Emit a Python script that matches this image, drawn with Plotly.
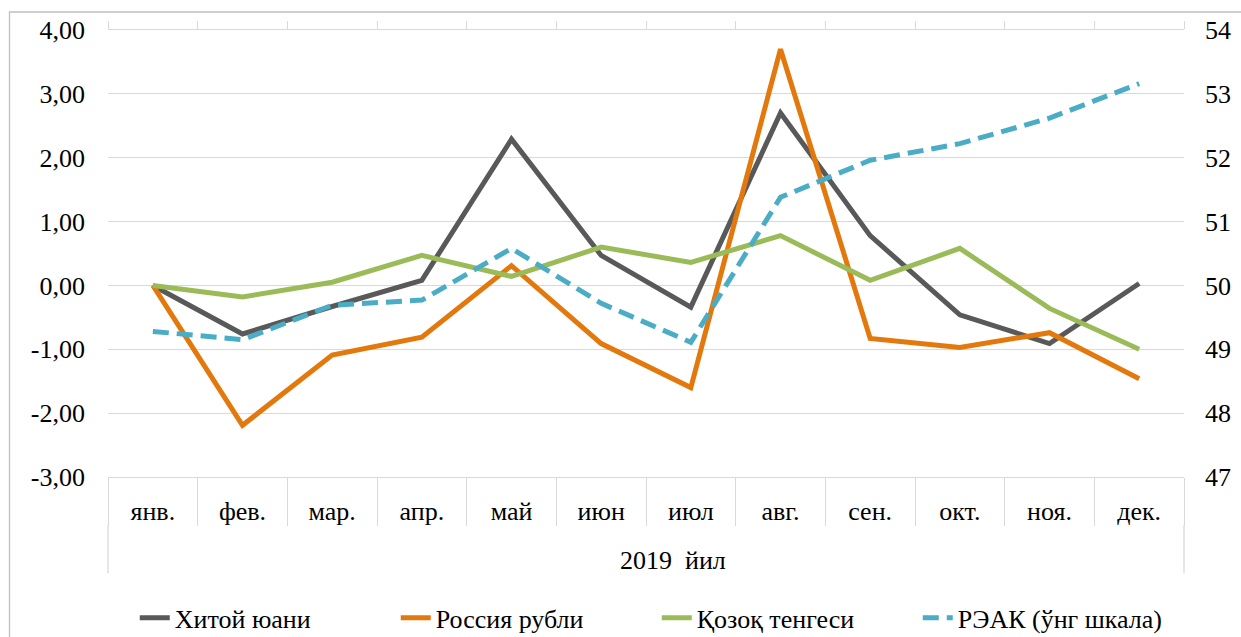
import plotly.graph_objects as go

months = ["янв.", "фев.", "мар.", "апр.", "май", "июн", "июл", "авг.", "сен.", "окт.", "ноя.", "дек."]
cny = [0.00, -0.76, -0.33, 0.08, 2.29, 0.47, -0.34, 2.70, 0.78, -0.46, -0.91, 0.03]
rub = [0.00, -2.19, -1.09, -0.81, 0.31, -0.91, -1.60, 3.70, -0.83, -0.97, -0.74, -1.46]
kzt = [0.00, -0.18, 0.05, 0.47, 0.14, 0.60, 0.36, 0.78, 0.08, 0.58, -0.36, -1.00]
reer = [49.28, 49.15, 49.69, 49.77, 50.58, 49.72, 49.11, 51.38, 51.96, 52.22, 52.62, 53.16]

left_ticks = [-3, -2, -1, 0, 1, 2, 3, 4]
left_labels = ["-3,00", "-2,00", "-1,00", "0,00", "1,00", "2,00", "3,00", "4,00"]
right_ticks = [47, 48, 49, 50, 51, 52, 53, 54]
right_labels = ["47", "48", "49", "50", "51", "52", "53", "54"]
year_label = "2019  йил"

FONT = "Liberation Serif, Times New Roman, serif"
FS = 26
GRID = "#d9d9d9"

fig = go.Figure()
fig.add_trace(go.Scatter(x=months, y=cny, name="Хитой юани", mode="lines",
                         line=dict(color="#595959", width=5)))
fig.add_trace(go.Scatter(x=months, y=rub, name="Россия рубли", mode="lines",
                         line=dict(color="#E3780C", width=5)))
fig.add_trace(go.Scatter(x=months, y=kzt, name="Қозоқ тенгеси", mode="lines",
                         line=dict(color="#9BBB59", width=5)))
fig.add_trace(go.Scatter(x=months, y=reer, name="РЭАК (ўнг шкала)", mode="lines",
                         xaxis="x2", yaxis="y2",
                         line=dict(color="#4BACC6", width=5, dash="16px,8px")))

fig.update_layout(
    width=1241, height=637,
    margin=dict(l=108, r=57, t=30, b=160, autoexpand=False),
    paper_bgcolor="white", plot_bgcolor="white",
    font=dict(family=FONT, size=FS, color="black"),
    showlegend=True,
    legend=dict(orientation="h", x=0.51, xanchor="center", y=-0.315, yanchor="middle",
                font=dict(family=FONT, size=FS, color="black"),
                entrywidth=216, entrywidthmode="pixels", bgcolor="rgba(0,0,0,0)"),
    xaxis=dict(type="category", range=[-0.5, 11.5], categoryorder="array", categoryarray=months,
               automargin=False,
               showgrid=False, zeroline=False, showline=True, linecolor=GRID, linewidth=1.3,
               ticks="outside", tickson="boundaries", ticklen=48, tickcolor=GRID, tickwidth=1.3,
               ticklabelstandoff=11,
               tickfont=dict(family=FONT, size=FS, color="black")),
    xaxis2=dict(type="category", range=[-0.5, 11.5], categoryorder="array", categoryarray=months,
                overlaying="x", side="top", anchor="y2", automargin=False,
                showgrid=False, zeroline=False, showline=True, linecolor=GRID, linewidth=1.3,
                ticks="outside", tickson="boundaries", ticklen=8, tickcolor=GRID, tickwidth=1.3,
                showticklabels=False),
    yaxis=dict(range=[-3, 4], tickvals=left_ticks, ticktext=left_labels, automargin=False,
               showgrid=True, gridcolor=GRID, gridwidth=1.3, zeroline=False, showline=False,
               ticks="", ticklabelstandoff=22,
               tickfont=dict(family=FONT, size=FS, color="black")),
    yaxis2=dict(range=[47, 54], tickvals=right_ticks, ticktext=right_labels,
                overlaying="y", side="right", anchor="x2", automargin=False,
                showgrid=False, zeroline=False, showline=False,
                ticks="", ticklabelstandoff=20,
                tickfont=dict(family=FONT, size=FS, color="black")),
)

ph = 447.0
pw = 1076.0
# outer level box of category axis
for xp in (0, 1):
    fig.add_shape(type="line", xref="paper", yref="paper", x0=xp, x1=xp,
                  y0=-48 / ph, y1=-96 / ph, line=dict(color=GRID, width=1.3))
fig.add_annotation(text=year_label, xref="paper", yref="paper",
                   x=(673 - 108) / pw, y=(477 - 560) / ph, xanchor="center", yanchor="middle",
                   showarrow=False, font=dict(family=FONT, size=FS, color="black"))
# chart border
fig.add_shape(type="rect", xref="paper", yref="paper",
              x0=(9.5 - 108) / pw, x1=(1260 - 108) / pw,
              y0=(477 - 660) / ph, y1=(477 - 12) / ph,
              line=dict(color="#bfbfbf", width=1.3), fillcolor="rgba(0,0,0,0)", layer="below")

fig.write_html("out.html", config={"displayModeBar": False},
               post_script="document.body.style.margin='0px';")
